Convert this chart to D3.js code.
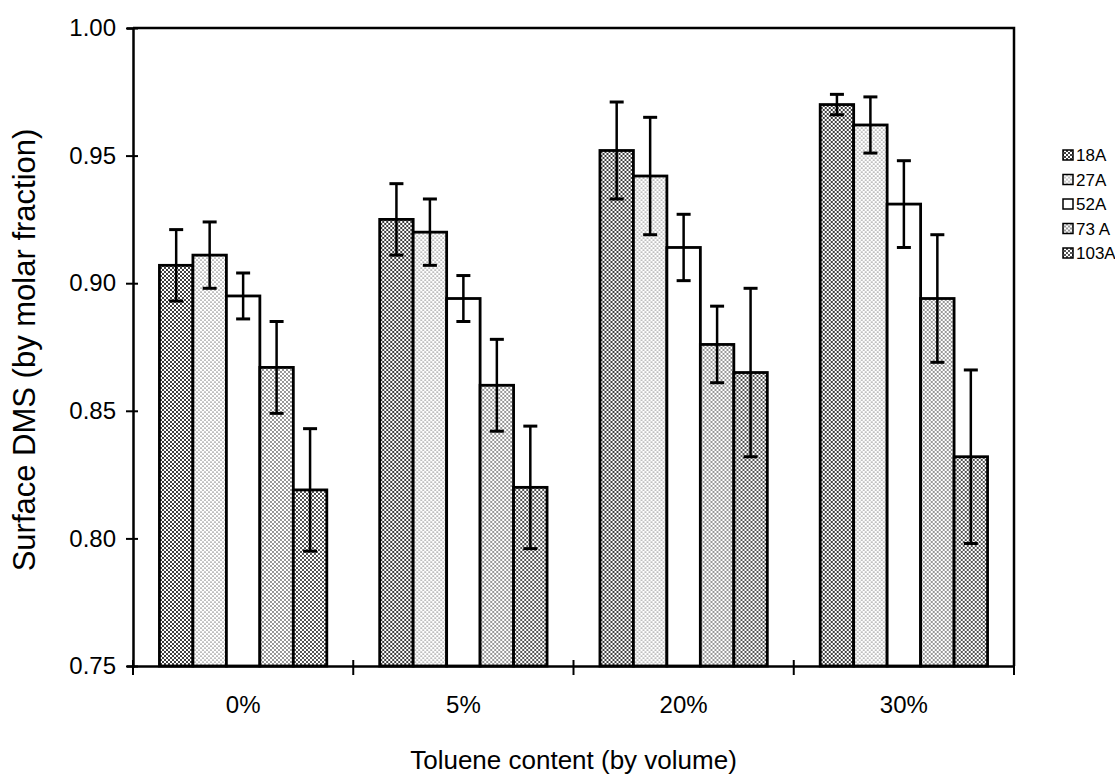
<!DOCTYPE html>
<html>
<head>
<meta charset="utf-8">
<script src="https://cdn.jsdelivr.net/npm/d3@7"></script>
<style>
  body { margin: 0; background: #fff; }
  text { font-family: "Liberation Sans", Arial, sans-serif; fill: #000; }
</style>
</head>
<body>
<div id="vis-container"></div>
<script>
// data
const categories = ["0%", "5%", "20%", "30%"];
const series = ["18A", "27A", "52A", "73 A", "103A"];
// mean surface DMS, one row per toluene content, one column per series
const means = [
  [0.907, 0.911, 0.895, 0.867, 0.819],
  [0.925, 0.920, 0.894, 0.860, 0.820],
  [0.952, 0.942, 0.914, 0.876, 0.865],
  [0.970, 0.962, 0.931, 0.894, 0.832],
];
// error bar half-widths
const errors = [
  [0.014, 0.013, 0.009, 0.018, 0.024],
  [0.014, 0.013, 0.009, 0.018, 0.024],
  [0.019, 0.023, 0.013, 0.015, 0.033],
  [0.004, 0.011, 0.017, 0.025, 0.034],
];
const yTicks = [0.75, 0.8, 0.85, 0.9, 0.95, 1.0];

// set the dimensions and margins of the graph
var margin = { top: 28, right: 101, bottom: 118, left: 133 },
  width = 1115 - margin.left - margin.right,
  height = 784 - margin.top - margin.bottom;

var svg = d3
  .select("#vis-container")
  .append("svg")
  .attr("width", 1115)
  .attr("height", 784);

// dot screens used as fills
var defs = svg.append("defs");
const screens = [
  { id: "p0", r: 1.0 },
  { id: "p1", r: 0.55 },
  null,
  { id: "p3", r: 0.78 },
  { id: "p4", r: 0.88 },
];
screens.forEach((s) => {
  if (!s) return;
  var p = defs
    .append("pattern")
    .attr("id", s.id)
    .attr("patternUnits", "userSpaceOnUse")
    .attr("width", 4)
    .attr("height", 4);
  p.append("rect").attr("width", 4).attr("height", 4).attr("fill", "#fff");
  [[0, 0], [4, 0], [0, 4], [4, 4], [2, 2]].forEach((c) => {
    p.append("circle")
      .attr("cx", c[0])
      .attr("cy", c[1])
      .attr("r", s.r)
      .attr("fill", "#000");
  });
});
const fill = (i) => (screens[i] ? "url(#" + screens[i].id + ")" : "#fff");

var g = svg
  .append("g")
  .attr("transform", "translate(" + margin.left + "," + margin.top + ")");

// scales
var x0 = d3.scaleBand().domain(categories).range([0, width]);
var x1 = d3
  .scaleBand()
  .domain(series)
  .range([0, x0.bandwidth()])
  .paddingOuter(0.79);
var y = d3.scaleLinear().domain([0.75, 1.0]).range([height, 0]);

// bars
var groups = g
  .selectAll(".group")
  .data(categories)
  .enter()
  .append("g")
  .attr("class", "group")
  .attr("transform", (d) => "translate(" + x0(d) + ",0)");

groups
  .selectAll("rect")
  .data((d, i) =>
    series.map((s, j) => ({ s: s, j: j, v: means[i][j], e: errors[i][j] }))
  )
  .enter()
  .append("rect")
  .attr("x", (d) => x1(d.s))
  .attr("y", (d) => y(d.v))
  .attr("width", x1.bandwidth())
  .attr("height", (d) => height - y(d.v))
  .attr("fill", (d) => fill(d.j))
  .attr("stroke", "#000")
  .attr("stroke-width", 2.8);

// error bars
var err = groups
  .selectAll(".err")
  .data((d, i) =>
    series.map((s, j) => ({ s: s, v: means[i][j], e: errors[i][j] }))
  )
  .enter()
  .append("g")
  .attr("class", "err")
  .attr("transform", (d) => "translate(" + (x1(d.s) + x1.bandwidth() / 2) + ",0)");
err
  .append("line")
  .attr("y1", (d) => y(d.v + d.e))
  .attr("y2", (d) => y(d.v - d.e))
  .attr("stroke", "#000")
  .attr("stroke-width", 2.5);
err
  .selectAll(".cap")
  .data((d) => [d.v + d.e, d.v - d.e])
  .enter()
  .append("line")
  .attr("x1", -7)
  .attr("x2", 7)
  .attr("y1", (d) => y(d))
  .attr("y2", (d) => y(d))
  .attr("stroke", "#000")
  .attr("stroke-width", 3);

// frame top and right
g.append("path")
  .attr("d", "M0,0H" + width + "V" + height)
  .attr("fill", "none")
  .attr("stroke", "#000")
  .attr("stroke-width", 2.5);

// y axis, ticks cross the line
var yAxis = g
  .append("g")
  .call(d3.axisLeft(y).tickValues(yTicks).tickFormat(d3.format(".2f")).tickSize(6).tickPadding(11));
yAxis.select(".domain").attr("stroke-width", 2.5);
yAxis.selectAll(".tick line").attr("x2", -7).attr("x1", 5).attr("stroke-width", 2);
yAxis.selectAll(".tick text").style("font-size", "24px");

// x axis, ticks at group boundaries
var xAxis = g
  .append("g")
  .attr("transform", "translate(0," + height + ")")
  .call(d3.axisBottom(x0).tickSize(0).tickPadding(30));
xAxis.select(".domain").attr("stroke-width", 2.5);
xAxis.selectAll(".tick text").style("font-size", "24px");
xAxis
  .selectAll(".bound")
  .data(categories.map((d) => x0(d)).concat([width]))
  .enter()
  .append("line")
  .attr("x1", (d) => d)
  .attr("x2", (d) => d)
  .attr("y1", -6)
  .attr("y2", 9)
  .attr("stroke", "#000")
  .attr("stroke-width", 2);

// axis titles
svg
  .append("text")
  .attr("x", margin.left + width / 2)
  .attr("y", 769)
  .attr("text-anchor", "middle")
  .style("font-size", "26px")
  .text("Toluene content (by volume)");
svg
  .append("text")
  .attr("transform", "translate(35,350) rotate(-90)")
  .attr("text-anchor", "middle")
  .style("font-size", "31px")
  .text("Surface DMS (by molar fraction)");

// legend
var legend = svg
  .selectAll(".legend")
  .data(series)
  .enter()
  .append("g")
  .attr("class", "legend")
  .attr("transform", (d, i) => "translate(1063," + (155 + i * 24.5) + ")");
legend
  .append("rect")
  .attr("x", 0)
  .attr("y", -5)
  .attr("width", 10)
  .attr("height", 10)
  .attr("fill", (d, i) => fill(i))
  .attr("stroke", "#000")
  .attr("stroke-width", 1.5);
legend
  .append("text")
  .attr("x", 13)
  .attr("y", 6)
  .style("font-size", "17px")
  .text((d) => d);
</script>
</body>
</html>
